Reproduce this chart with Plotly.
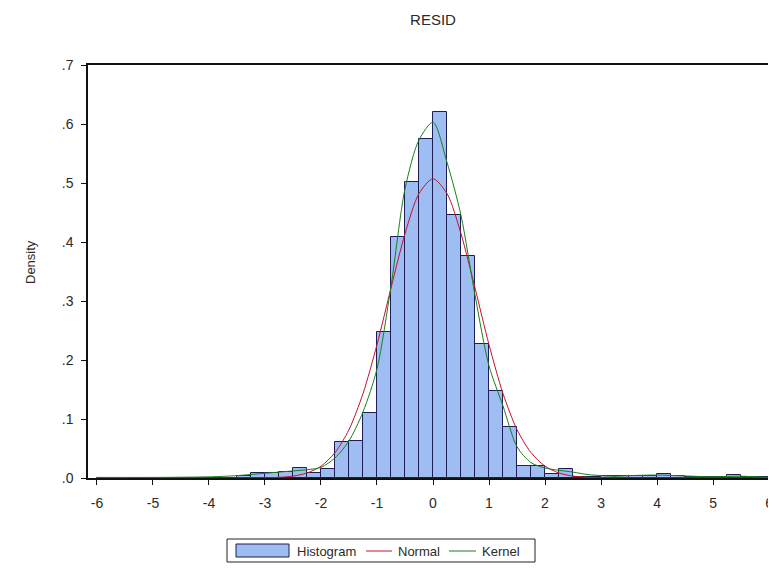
import numpy as np
import plotly.graph_objects as go

# ---- data ----
bin_width = 0.25
bin_left = list(np.arange(-6.0, 6.0, 0.25))
hist_density = [
    0.0, 0.0, 0.0, 0.0, 0.0, 0.0, 0.0, 0.0,              # -6 .. -4
    0.0, 0.0, 0.004, 0.008, 0.009, 0.010, 0.0175, 0.009,  # -4 .. -2
    0.015, 0.0615, 0.063, 0.111, 0.248, 0.409, 0.502, 0.575,  # -2 .. 0
    0.621, 0.446, 0.376, 0.227, 0.148, 0.087, 0.021, 0.021,  # 0 .. 2
    0.007, 0.016, 0.002, 0.002, 0.003, 0.004, 0.004, 0.004,  # 2 .. 4
    0.006, 0.004, 0.002, 0.001, 0.001, 0.005, 0.002, 0.001,  # 4 .. 6
]

curve_x = [-6, -5, -4, -3.5, -3.25, -3, -2.75, -2.5, -2.25, -2, -1.75, -1.5,
           -1.25, -1, -0.75, -0.5, -0.25, 0, 0.25, 0.5, 0.75, 1, 1.25, 1.5,
           1.75, 2, 2.25, 2.5, 2.75, 3, 3.25, 3.5, 4, 5, 5.5, 6]
normal_y = [0.0, 0.0, 0.0, 0.0001, 0.0002, 0.0004, 0.0011, 0.0032, 0.0085, 0.020,
            0.043, 0.082, 0.143, 0.226, 0.322, 0.414, 0.482, 0.507, 0.482, 0.414,
            0.322, 0.226, 0.143, 0.082, 0.043, 0.020, 0.0085, 0.0032, 0.0011,
            0.0004, 0.0002, 0.0001, 0.0, 0.0, 0.0, 0.0]
kernel_y = [0.001, 0.001, 0.002, 0.004, 0.006, 0.008, 0.010, 0.012, 0.014, 0.018,
            0.034, 0.063, 0.112, 0.185, 0.325, 0.490, 0.573, 0.603, 0.535, 0.445,
            0.310, 0.190, 0.122, 0.053, 0.026, 0.017, 0.013, 0.010, 0.006,
            0.004, 0.003, 0.004, 0.005, 0.002, 0.003, 0.001]

x_tick_vals = [-6, -5, -4, -3, -2, -1, 0, 1, 2, 3, 4, 5, 6]
x_tick_text = ["-6", "-5", "-4", "-3", "-2", "-1", "0", "1", "2", "3", "4", "5", "6"]
y_tick_vals = [0.0, 0.1, 0.2, 0.3, 0.4, 0.5, 0.6, 0.7]
y_tick_text = [".0", ".1", ".2", ".3", ".4", ".5", ".6", ".7"]

title_text = "RESID"
y_title = "Density"
legend_labels = ["Histogram", "Normal", "Kernel"]

bar_color = "#9DBDF3"
bar_line = "#1E1E55"
normal_color = "#C8102E"
kernel_color = "#1A7F1A"
text_color = "#2a2a2a"
font_family = "Arial, Liberation Sans, sans-serif"

centers = [b + bin_width / 2 for b in bin_left]

fig = go.Figure()
fig.add_trace(go.Bar(x=centers, y=hist_density, width=bin_width,
                     marker=dict(color=bar_color, line=dict(color=bar_line, width=1)),
                     name=legend_labels[0], showlegend=False))
fig.add_trace(go.Scatter(x=curve_x, y=normal_y, mode="lines",
                         line=dict(color=normal_color, width=1, shape="spline", smoothing=0.8),
                         name=legend_labels[1], showlegend=False))
fig.add_trace(go.Scatter(x=curve_x, y=kernel_y, mode="lines",
                         line=dict(color=kernel_color, width=1, shape="spline", smoothing=0.8),
                         name=legend_labels[2], showlegend=False))

# The page body adds an 8px offset; target screen coords are converted below.
OFF = 8
FW, FH = 776, 570
# plot area in screen pixels: x 88..778, y 65..478
L, R, T, B = 88 - OFF, 778 - OFF, 65 - OFF, 478 - OFF
W, H = R - L, B - T

def px(xs):
    return (xs - OFF - L) / W

def py(ys):
    return (B - (ys - OFF)) / H

shapes = []
annotations = []
lg_font = dict(size=13, color=text_color, family=font_family)
# legend box
shapes.append(dict(type="rect", xref="paper", yref="paper",
                   x0=px(227), x1=px(535), y0=py(539), y1=py(562),
                   line=dict(color="#222222", width=1), fillcolor="white"))
# histogram swatch
shapes.append(dict(type="rect", xref="paper", yref="paper",
                   x0=px(236), x1=px(289), y0=py(544), y1=py(557),
                   line=dict(color=bar_line, width=1), fillcolor=bar_color))
annotations.append(dict(text=legend_labels[0], xref="paper", yref="paper",
                        x=px(295), y=py(551), xanchor="left", yanchor="middle",
                        showarrow=False, font=lg_font))
shapes.append(dict(type="line", xref="paper", yref="paper",
                   x0=px(366), x1=px(392), y0=py(551), y1=py(551),
                   line=dict(color=normal_color, width=1)))
annotations.append(dict(text=legend_labels[1], xref="paper", yref="paper",
                        x=px(396), y=py(551), xanchor="left", yanchor="middle",
                        showarrow=False, font=lg_font))
shapes.append(dict(type="line", xref="paper", yref="paper",
                   x0=px(449), x1=px(476), y0=py(551), y1=py(551),
                   line=dict(color=kernel_color, width=1)))
annotations.append(dict(text=legend_labels[2], xref="paper", yref="paper",
                        x=px(480), y=py(551), xanchor="left", yanchor="middle",
                        showarrow=False, font=lg_font))
# y axis title placed to match the reference
annotations.append(dict(text=y_title, xref="paper", yref="paper",
                        x=px(30), y=py(262), xanchor="center", yanchor="middle",
                        textangle=-90, showarrow=False, font=lg_font))

fig.update_layout(
    width=FW, height=FH,
    margin=dict(l=L, r=FW - R, t=T, b=FH - B, pad=0, autoexpand=False),
    paper_bgcolor="white", plot_bgcolor="white",
    font=dict(family=font_family, size=13, color=text_color),
    title=dict(text=title_text, x=(433 - OFF) / FW, xref="container", xanchor="center",
               y=1 - (20 - OFF) / FH, yref="container", yanchor="middle",
               font=dict(size=15, color=text_color, family=font_family)),
    bargap=0, showlegend=False,
    shapes=shapes, annotations=annotations,
)
fig.update_xaxes(range=[-6.16, 6.16], tickvals=x_tick_vals, ticktext=x_tick_text,
                 showgrid=False, zeroline=False, showline=True, linecolor="#111111",
                 linewidth=1.5, mirror=True, ticks="outside", ticklen=5,
                 tickcolor="#111111", tickfont=dict(size=14, color=text_color),
                 ticklabelstandoff=6, automargin=False)
fig.update_yaxes(range=[0, 0.7], tickvals=y_tick_vals, ticktext=y_tick_text,
                 showgrid=False, zeroline=False, showline=True, linecolor="#111111",
                 linewidth=1.5, mirror=False, ticks="outside", ticklen=5,
                 tickcolor="#111111", tickfont=dict(size=14, color=text_color),
                 ticklabelstandoff=5, automargin=False)

fig.write_html("out.html")
